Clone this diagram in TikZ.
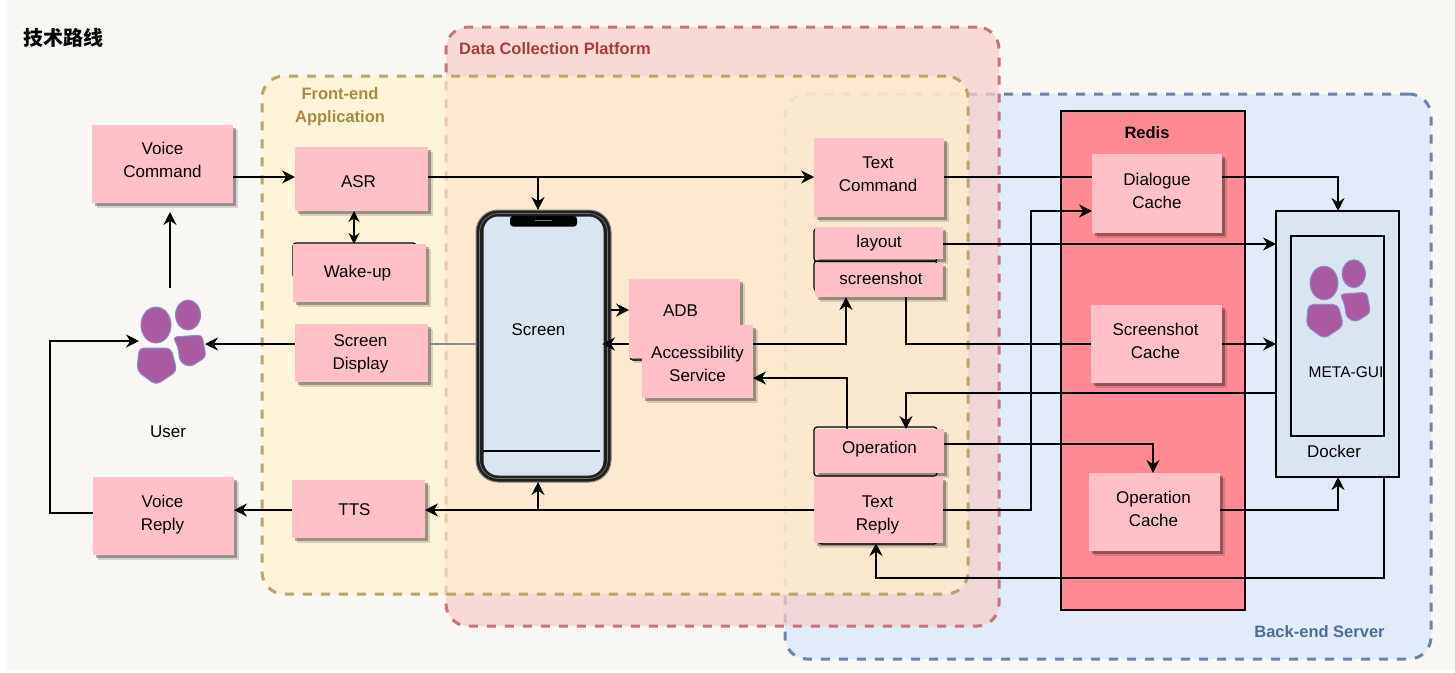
\documentclass[tikz,border=0pt]{standalone}
\usepackage{fontspec}
\setmainfont{Liberation Sans}
\newfontfamily\cjkfont{Noto Sans CJK SC}
\usepackage{xcolor}
\usetikzlibrary{positioning, arrows.meta, shadows}

\definecolor{paper}{HTML}{F9F7F3}
\definecolor{boxpink}{HTML}{FFC0C7}
\definecolor{redisred}{HTML}{FF8A93}
\definecolor{screenblue}{HTML}{DAE5F2}
\definecolor{frontline}{HTML}{B9A46A}
\definecolor{frontfill}{HTML}{FFF2CC}
\definecolor{frontword}{HTML}{A68B45}
\definecolor{dataline}{HTML}{C4757A}
\definecolor{datafill}{HTML}{F8CECC}
\definecolor{dataword}{HTML}{A83D3D}
\definecolor{backline}{HTML}{6C85A5}
\definecolor{backfill}{HTML}{E1EBFA}
\definecolor{backword}{HTML}{4F6C94}
\definecolor{peoplefill}{HTML}{A95AA1}
\definecolor{peopleline}{HTML}{8D8CC8}

\tikzset{
  flow/.style={draw=black, line width=1.5pt, -{Stealth[length=13pt,width=13pt]}},
  plainflow/.style={draw=black, line width=1.5pt},
  zone/.style={rounded corners=22pt, dash pattern=on 9pt off 9pt, line width=3pt, inner sep=0pt},
  cell/.style={fill=boxpink, inner sep=0pt, outer sep=0pt, align=center,
    drop shadow={shadow xshift=4.5pt, shadow yshift=-4.5pt, fill=black, opacity=.14},
    drop shadow={shadow xshift=3pt, shadow yshift=-3pt, fill=black, opacity=.3}},
  moved/.style n args={3}{label={[xshift=#1pt,yshift=#2pt,align=center]center:{#3}}},
  ghost/.style={draw=black, line width=1.2pt, rounded corners=3pt, inner sep=0pt, outer sep=0pt},
  container/.style={draw=black, line width=1.5pt, inner sep=0pt, outer sep=0pt},
  people/.pic={
    \filldraw[fill=peoplefill, draw=peopleline, line width=1pt] (0,0) ellipse (15 and 18);
    \filldraw[fill=peoplefill, draw=peopleline, line width=1pt] (32,-10) ellipse (12.5 and 15);
    \filldraw[fill=peoplefill, draw=peopleline, line width=1pt, rounded corners=5pt]
      (-17,23) -- (15,23) -- (21,46) -- (0,60) -- (-19,46) -- cycle;
    \filldraw[fill=peoplefill, draw=peopleline, line width=1pt, rounded corners=4pt]
      (17,12) -- (46,10) -- (50,32) -- (34,42) -- (24,37) -- (22,22) -- cycle;
  }
}

\begin{document}
\begin{tikzpicture}[x=1pt, y=-1pt, font=\fontsize{17}{23}\selectfont]
\useasboundingbox (0,0) rectangle (1455,672);
\fill[white] (0,0) rectangle (1455,672);
\fill[paper] (7,0) rectangle (1455,670);

% zones
\node[zone, draw=backline, fill=backfill, minimum width=646pt, minimum height=565pt] (backzone) at (1108,376.5) {};
\node[zone, draw=dataline, fill=datafill, fill opacity=.72, minimum width=553pt, minimum height=599pt] (datazone) at (722.5,326.5) {};
\node[zone, draw=frontline, fill=frontfill, fill opacity=.67, minimum width=706pt, minimum height=518pt] (frontzone) at (615,335) {};

\node[font=\cjkfont\bfseries\fontsize{20}{24}\selectfont] (title) at (63.5,38) {技术路线};
\node[font=\bfseries\fontsize{16.5}{23}\selectfont, text=frontword, align=center] (frontname) at (340,107) {Front-end\\Application};
\node[font=\bfseries\fontsize{16.5}{23}\selectfont, text=dataword, anchor=west, inner sep=0pt] (dataname) at (459,49) {Data Collection Platform};
\node[font=\bfseries\fontsize{16.5}{23}\selectfont, text=backword] (backname) at (1319.5,632) {Back-end Server};

% redis and docker
\node[container, fill=redisred, minimum width=184pt, minimum height=499pt] (redis) at (1153,360.5) {};
\node[font=\bfseries\fontsize{16.5}{23}\selectfont] (redisname) at (1147,133) {Redis};
\node[container, fill=screenblue, minimum width=123pt, minimum height=266pt] (docker) at (1337.5,344) {};
\node[container, minimum width=93pt, minimum height=200pt] (guibox) at (1337.5,336) {};
\pic[scale=.93] at (1324,283) {people};
\begin{scope}
\clip (guibox.north west) rectangle (guibox.south east);
\node[font=\fontsize{15.5}{23}\selectfont] (guiname) at (1346,372) {META-GUI};
\end{scope}
\node (dockername) at (1334,451) {Docker};

% user
\pic at (156,325) {people};
\node (username) at (168,432) {User};
\coordinate (userin) at (139,341);
\coordinate (userout) at (205,344);
\coordinate (usertop) at (170,288);
\coordinate (usertip) at (170,212);

% phone
\node[fill=black!88, draw=gray, line width=1pt, rounded corners=22pt, minimum width=135pt, minimum height=272pt, inner sep=0pt, outer sep=0pt] (phone) at (543.5,346) {};
\node[draw=black!55, line width=.7pt, rounded corners=19pt, minimum width=128pt, minimum height=265pt, inner sep=0pt] (phonering) at (phone) {};
\node[fill=screenblue, rounded corners=15pt, minimum width=120pt, minimum height=259pt, inner sep=0pt, moved={-5}{16.5}{Screen}] (screen) at (phone) {};
\fill[black, rounded corners=3pt] (510,216) -- (577,216) -- (577,226.5) -- (510,226.5) -- cycle;
\draw[gray, line width=.7pt] (535,220) -- (552,220);
\draw[black, line width=1.3pt] (screen.west |- 0,451) -- (600,451);

% hidden outlines behind the cells
\node[ghost, minimum width=123pt, minimum height=35pt] (wakeghost) at (354.5,260.5) {};
\node[ghost, minimum width=123pt, minimum height=33pt] (layoutghost) at (875.5,245) {};
\node[ghost, minimum width=123pt, minimum height=30pt] (shotghost) at (875.5,276) {};
\node[ghost, minimum width=123pt, minimum height=49pt] (opghost) at (875.5,451.5) {};
\node[ghost, minimum width=118pt, minimum height=64pt] (replyghost) at (878,512) {};
\node[ghost, minimum width=70pt, minimum height=60pt] (adbghost) at (665,330) {};

% cells
\node[cell, minimum width=141pt, minimum height=78pt, moved={0}{4}{Voice\\Command}] (vcmd) at (162.5,164) {};
\node[cell, minimum width=133pt, minimum height=64pt, moved={-3}{-3}{ASR}] (asr) at (361.5,179) {};
\node[cell, minimum width=133pt, minimum height=58pt, moved={-2}{0}{Wake-up}] (wake) at (359.5,273) {};
\node[cell, minimum width=133pt, minimum height=58pt, moved={-1}{-1}{Screen\\Display}] (sdisp) at (361.5,353) {};
\node[cell, minimum width=133pt, minimum height=58pt, moved={-4}{-1}{TTS}] (tts) at (358.5,509) {};
\node[cell, minimum width=141pt, minimum height=78pt, moved={-1}{1}{Voice\\Reply}] (vreply) at (163.5,516) {};
\node[cell, minimum width=111pt, minimum height=79pt, moved={-4}{8}{ADB}] (adb) at (684.5,318.5) {};
\node[cell, minimum width=111pt, minimum height=73pt, moved={0}{-2}{Accessibility\\Service}] (access) at (697.5,361.5) {};
\node[cell, minimum width=130pt, minimum height=79pt, moved={-1}{3}{Text\\Command}] (tcmd) at (879,177.5) {};
\node[cell, minimum width=128pt, minimum height=32pt] (layout) at (879,243) {layout};
\node[cell, minimum width=128pt, minimum height=34pt, moved={2}{2}{screenshot}] (shot) at (879,280) {};
\node[cell, minimum width=129pt, minimum height=44pt, moved={0}{2}{Operation}] (oper) at (879.5,451) {};
\node[cell, minimum width=129pt, minimum height=66pt, moved={-1}{-4.5}{Text\\Reply}] (treply) at (878.5,510) {};
\node[cell, minimum width=130pt, minimum height=79pt, moved={0}{3}{Dialogue\\Cache}] (dcache) at (1157,193.5) {};
\node[cell, minimum width=131pt, minimum height=78pt, moved={-1}{3}{Screenshot\\Cache}] (scache) at (1156.5,344) {};
\node[cell, minimum width=131pt, minimum height=78pt, moved={-1}{3}{Operation\\Cache}] (ocache) at (1154.5,512) {};

% rails
\coordinate (asrline) at (0,177);
\coordinate (layoutline) at (0,244);
\coordinate (displine) at (0,344);
\coordinate (adbline) at (0,310);
\coordinate (opline) at (0,378);
\coordinate (guiline) at (0,393);
\coordinate (cacheline) at (0,444);
\coordinate (replyline) at (0,510);
\coordinate (loopline) at (0,578);
\coordinate (dialogline) at (0,211);
\coordinate (phonecol) at (538,0);
\coordinate (wakecol) at (354,0);
\coordinate (shotcol) at (906,0);
\coordinate (upcol) at (846,0);
\coordinate (sidecol) at (1031,0);
\coordinate (dockcol) at (1338,0);
\coordinate (backcol) at (1384,0);
\coordinate (leftcol) at (50,0);
\coordinate (opcachecol) at (1153,0);
\coordinate (replycol) at (876,0);
\coordinate (opcol) at (847,0);

% connectors
\draw[flow] (vcmd.east |- asrline) -- (asr.west |- asrline);
\draw[flow] (asr.east |- asrline) -- (tcmd.west |- asrline);
\draw[flow] (phonecol |- asrline) -- (phonecol |- phone.north);
\draw[flow, {Stealth[length=11pt,width=11pt]}-{Stealth[length=11pt,width=11pt]}] (wakecol |- asr.south) -- (wakecol |- wake.north);
\draw[flow] (usertop) -- (usertip);
\draw[flow] (sdisp.west |- userout) -- (userout);
\draw[draw=black!45, line width=1.1pt] (phone.west |- displine) -- (sdisp.east |- displine);
\draw[flow] (vreply.west |- 0,513) -- (leftcol |- 0,513) -- (leftcol |- userin) -- (userin);
\draw[flow] (tts.west |- replyline) -- (vreply.east |- replyline);
\draw[flow] (treply.west |- replyline) -- (tts.east |- replyline);
\draw[flow] (phonecol |- replyline) -- (phonecol |- phone.south);
\draw[flow] (phone.east |- adbline) -- (adb.west |- adbline);
\draw[flow] (adb.west |- displine) -- (602,344);
\draw[flow] (access.east |- displine) -| (upcol |- shot.south);
\draw[flow] (opcol |- oper.north) -- (opcol |- opline) -- (access.east |- opline);
\draw[plainflow] (tcmd.east |- asrline) -- (dcache.west |- asrline);
\draw[flow] (dcache.east |- asrline) -| (dockcol |- docker.north);
\draw[flow] (layout.east |- layoutline) -- (docker.west |- layoutline);
\draw[plainflow] (shotcol |- shot.south) |- (scache.west |- displine);
\draw[flow] (scache.east |- displine) -- (docker.west |- displine);
\draw[flow] (treply.east |- replyline) -| (sidecol |- dialogline) -- (dcache.west |- dialogline);
\draw[flow] (docker.west |- guiline) -| (shotcol |- oper.north);
\draw[flow] (oper.east |- cacheline) -| (opcachecol |- ocache.north);
\draw[flow] (ocache.east |- replyline) -| (dockcol |- docker.south);
\draw[flow] (backcol |- docker.south) |- (replycol |- loopline) -- (replycol |- treply.south);
\end{tikzpicture}
\end{document}
